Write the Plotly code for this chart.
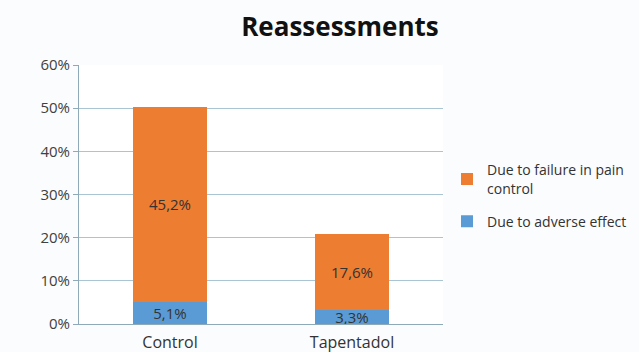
import plotly.graph_objects as go

categories = ["Control", "Tapentadol"]
adverse = [5.1, 3.3]
pain_failure = [45.2, 17.6]
adverse_labels = ["5,1%", "3,3%"]
pain_labels = ["45,2%", "17,6%"]
tick_vals = [0, 10, 20, 30, 40, 50, 60]
tick_text = ["0%", "10%", "20%", "30%", "40%", "50%", "60%"]

FONT = "Open Sans, Liberation Sans, sans-serif"

fig = go.Figure()
fig.add_trace(go.Bar(
    x=categories, y=adverse, name="Due to adverse effect",
    legendgroup="a", legendrank=2,
    marker=dict(color="#5B9BD5", line=dict(width=0)),
    text=adverse_labels, textposition="inside", insidetextanchor="middle",
    constraintext="none", cliponaxis=False,
    textfont=dict(color="#333333", size=15, family=FONT),
))
fig.add_trace(go.Bar(
    x=categories, y=pain_failure, name="Due to failure in pain<br>control",
    legendgroup="b", legendrank=1,
    marker=dict(color="#ED7D31", line=dict(width=0)),
    text=pain_labels, textposition="inside", insidetextanchor="middle",
    constraintext="none",
    textfont=dict(color="#333333", size=15, family=FONT),
))

fig.update_layout(
    width=639, height=352,
    barmode="stack", bargap=0.59,
    margin=dict(l=79, r=196, t=65, b=28, autoexpand=False),
    paper_bgcolor="#fbfcfd", plot_bgcolor="#ffffff",
    font=dict(family=FONT, color="#404040", size=14),
    title=dict(text="<b>Reassessments</b>", x=0.532, xanchor="center",
               y=0.925, yanchor="middle",
               font=dict(size=26, color="#111111", family=FONT)),
    showlegend=True,
    legend=dict(x=1.011, xanchor="left", y=0.655, yanchor="top",
                traceorder="grouped", font=dict(size=14, color="#333333"),
                itemsizing="constant", itemwidth=30, tracegroupgap=12,
                bgcolor="rgba(0,0,0,0)"),
)
fig.update_yaxes(range=[0, 60], tickvals=tick_vals, ticktext=tick_text,
                 automargin=False,
                 showgrid=True, gridcolor="#a9c4d3", gridwidth=1,
                 showline=True, linecolor="#8eaab9", linewidth=1,
                 ticks="outside", ticklen=5, tickcolor="#8eaab9",
                 zeroline=False, tickfont=dict(size=15, color="#404040"))
fig.update_xaxes(showline=True, linecolor="#8eaab9", linewidth=1,
                 automargin=False,
                 tickfont=dict(size=16, color="#333333"), ticks="",
                 ticklabelstandoff=4)

fig.write_html("out.html")
